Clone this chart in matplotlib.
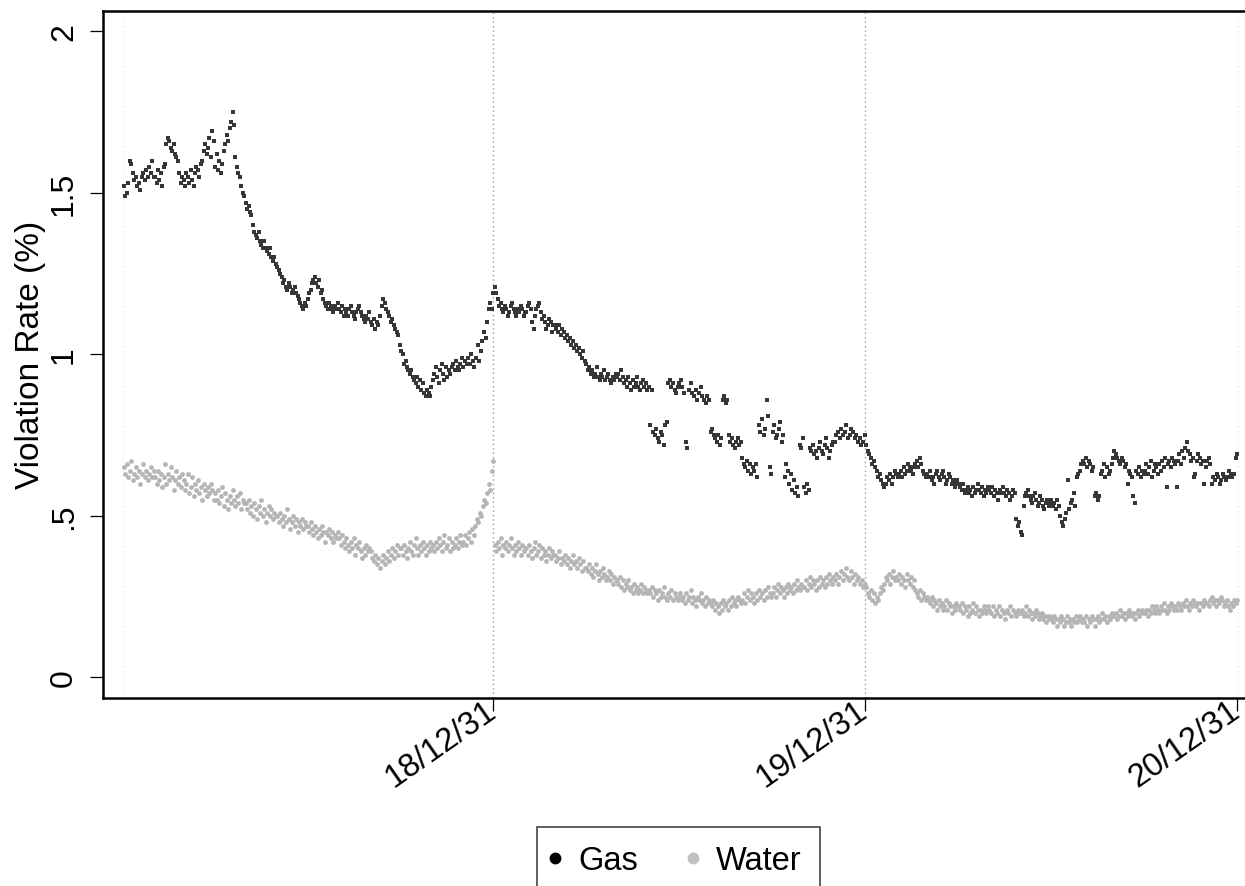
import numpy as np
import pandas as pd
import matplotlib
matplotlib.use("Agg")
import matplotlib.pyplot as plt
import matplotlib.dates as mdates
import matplotlib.transforms as mtransforms
from matplotlib.lines import Line2D

plt.rcParams['font.family'] = ['Liberation Sans', 'DejaVu Sans']

# ---------------- data (violation rate, %), one list per month ----------------
gas_2018 = [
    [1.52, 1.49, 1.50, 1.53, 1.60, 1.59, 1.56, 1.54, 1.55, 1.52, 1.53, 1.51, 1.55, 1.56, 1.54, 1.57, 1.55, 1.58, 1.56, 1.60, 1.55],
    [1.55, 1.53, 1.57, 1.54, 1.56, 1.52, 1.58, 1.59, 1.65, 1.67, 1.66, 1.64, 1.63, 1.65, 1.62, 1.61, 1.60, 1.56, 1.53, 1.55],
    [1.54, 1.52, 1.56, 1.55, 1.53, 1.57, 1.54, 1.52, 1.56, 1.58, 1.57, 1.55, 1.59, 1.60, 1.63, 1.65, 1.62, 1.64, 1.67, 1.61, 1.69, 1.66],
    [1.58, 1.62, 1.57, 1.60, 1.56, 1.59, 1.63, 1.65, 1.68, 1.66, 1.70, 1.72, 1.75, 1.71, 1.61, 1.58, 1.56, 1.55, 1.52, 1.50, 1.49],
    [1.47, 1.45, 1.46, 1.44, 1.43, 1.40, 1.38, 1.37, 1.36, 1.38, 1.35, 1.34, 1.33, 1.35, 1.33, 1.32, 1.31, 1.33, 1.30, 1.29, 1.30, 1.28],
    [1.27, 1.26, 1.25, 1.24, 1.22, 1.23, 1.21, 1.20, 1.22, 1.21, 1.19, 1.20, 1.21, 1.19, 1.18, 1.17, 1.16, 1.15, 1.14, 1.16, 1.15],
    [1.17, 1.19, 1.20, 1.22, 1.23, 1.24, 1.22, 1.21, 1.23, 1.19, 1.20, 1.17, 1.16, 1.15, 1.14, 1.16, 1.15, 1.14, 1.13, 1.15, 1.14, 1.16],
    [1.14, 1.13, 1.15, 1.12, 1.14, 1.13, 1.12, 1.14, 1.15, 1.13, 1.12, 1.11, 1.13, 1.14, 1.15, 1.13, 1.12, 1.11, 1.10, 1.12, 1.11, 1.13],
    [1.10, 1.09, 1.11, 1.08, 1.10, 1.09, 1.12, 1.15, 1.17, 1.16, 1.14, 1.13, 1.12, 1.10, 1.11, 1.09, 1.08, 1.07, 1.06, 1.03],
    [1.01, 1.00, 0.97, 0.98, 0.96, 0.95, 0.94, 0.95, 0.93, 0.92, 0.91, 0.93, 0.90, 0.92, 0.89, 0.91, 0.88, 0.87, 0.89, 0.88, 0.87, 0.90],
    [0.92, 0.94, 0.96, 0.93, 0.91, 0.95, 0.97, 0.94, 0.92, 0.96, 0.93, 0.95, 0.94, 0.96, 0.97, 0.95, 0.98, 0.96, 0.95, 0.97, 0.99],
    [0.96, 0.98, 0.97, 0.99, 0.97, 1.00, 0.98, 0.96, 0.99, 1.03, 0.98, 1.01, 1.04, 1.07, 1.05, 1.10, 1.14, 1.16, 1.14, 1.19],
]
gas_2019 = [
    [1.21, 1.19, 1.17, 1.15, 1.16, 1.14, 1.13, 1.15, 1.14, 1.12, 1.13, 1.15, 1.16, 1.14, 1.13, 1.12, 1.14, 1.13, 1.15, 1.14, 1.12, 1.13],
    [1.13, 1.15, 1.16, 1.14, 1.10, 1.08, 1.12, 1.14, 1.15, 1.16, 1.13, 1.11, 1.12, 1.10, 1.08, 1.09, 1.11, 1.10, 1.07, 1.09],
    [1.09, 1.08, 1.07, 1.09, 1.06, 1.08, 1.07, 1.05, 1.06, 1.04, 1.05, 1.03, 1.04, 1.02, 1.03, 1.01, 1.02, 1.00, 0.99, 1.01, 0.98],
    [0.97, 0.95, 0.96, 0.94, 0.95, 0.93, 0.94, 0.96, 0.93, 0.92, 0.94, 0.93, 0.95, 0.92, 0.93, 0.94, 0.92, 0.91, 0.93, 0.92, 0.94],
    [0.93, 0.94, 0.92, 0.95, 0.93, 0.91, 0.92, 0.90, 0.93, 0.91, 0.89, 0.92, 0.90, 0.91, 0.93, 0.90, 0.89, 0.91, 0.92, 0.90, 0.91, 0.89],
    [0.90, 0.78, 0.89, 0.76, 0.75, 0.77, 0.74, 0.73, 0.76, 0.75, 0.72, 0.78, 0.79, 0.91, 0.92, 0.90, 0.91, 0.89, 0.88, 0.90],
    [0.91, 0.92, 0.90, 0.88, 0.73, 0.71, 0.89, 0.91, 0.88, 0.87, 0.89, 0.86, 0.88, 0.90, 0.87, 0.86, 0.85, 0.87, 0.86],
    [0.76, 0.77, 0.75, 0.74, 0.73, 0.75, 0.72, 0.74, 0.86, 0.87, 0.85, 0.86, 0.75, 0.73, 0.74, 0.72, 0.71, 0.73, 0.74, 0.72, 0.73],
    [0.68, 0.66, 0.65, 0.67, 0.64, 0.66, 0.63, 0.65, 0.64, 0.66, 0.62, 0.78, 0.76, 0.80, 0.75, 0.77, 0.86, 0.81, 0.65, 0.63],
    [0.76, 0.78, 0.74, 0.75, 0.77, 0.79, 0.73, 0.75, 0.62, 0.66, 0.64, 0.60, 0.63, 0.58, 0.61, 0.57, 0.59, 0.56, 0.72, 0.71, 0.74],
    [0.59, 0.57, 0.60, 0.58, 0.71, 0.70, 0.72, 0.69, 0.70, 0.68, 0.71, 0.73, 0.70, 0.69, 0.72, 0.74, 0.71, 0.68, 0.70, 0.72, 0.73],
    [0.73, 0.75, 0.76, 0.74, 0.77, 0.75, 0.76, 0.78, 0.74, 0.75, 0.77, 0.76, 0.74, 0.75, 0.73, 0.74, 0.72, 0.73, 0.75],
]
gas_2020 = [
    [0.72, 0.70, 0.69, 0.68, 0.66, 0.67, 0.65, 0.64, 0.62, 0.63, 0.61, 0.60, 0.59, 0.60, 0.62, 0.61, 0.63, 0.60, 0.62, 0.64, 0.63],
    [0.62, 0.63, 0.64, 0.62, 0.65, 0.63, 0.64, 0.66, 0.65, 0.64, 0.63, 0.65, 0.66, 0.67, 0.65, 0.68, 0.66, 0.64, 0.63, 0.62],
    [0.63, 0.62, 0.64, 0.61, 0.62, 0.60, 0.63, 0.64, 0.62, 0.61, 0.63, 0.64, 0.62, 0.60, 0.61, 0.63, 0.62, 0.60, 0.61, 0.59, 0.60, 0.61],
    [0.60, 0.59, 0.58, 0.60, 0.57, 0.58, 0.59, 0.57, 0.58, 0.56, 0.59, 0.57, 0.58, 0.60, 0.58, 0.57, 0.59, 0.56, 0.58, 0.57, 0.59],
    [0.58, 0.57, 0.59, 0.56, 0.58, 0.57, 0.55, 0.58, 0.57, 0.59, 0.57, 0.56, 0.58, 0.57, 0.55, 0.56, 0.58, 0.57, 0.49, 0.47, 0.48],
    [0.45, 0.44, 0.53, 0.56, 0.57, 0.58, 0.56, 0.55, 0.54, 0.56, 0.57, 0.55, 0.53, 0.54, 0.56, 0.55, 0.53, 0.52, 0.54, 0.55, 0.53, 0.54],
    [0.55, 0.53, 0.54, 0.52, 0.55, 0.53, 0.50, 0.48, 0.47, 0.49, 0.51, 0.61, 0.52, 0.54, 0.55, 0.57, 0.53, 0.62, 0.63, 0.64, 0.66],
    [0.67, 0.66, 0.68, 0.65, 0.67, 0.66, 0.64, 0.65, 0.56, 0.57, 0.55, 0.56, 0.63, 0.64, 0.66, 0.62, 0.65, 0.63, 0.64, 0.66, 0.68],
    [0.70, 0.69, 0.68, 0.67, 0.66, 0.68, 0.67, 0.65, 0.66, 0.60, 0.64, 0.63, 0.62, 0.56, 0.54, 0.64, 0.63, 0.65, 0.62, 0.64, 0.63],
    [0.64, 0.66, 0.63, 0.65, 0.67, 0.62, 0.64, 0.66, 0.65, 0.63, 0.66, 0.64, 0.67, 0.65, 0.68, 0.59, 0.66, 0.67, 0.65, 0.68, 0.67, 0.66],
    [0.59, 0.67, 0.69, 0.66, 0.70, 0.68, 0.71, 0.73, 0.70, 0.69, 0.67, 0.68, 0.62, 0.63, 0.67, 0.69, 0.68, 0.66, 0.67, 0.60, 0.65],
    [0.67, 0.68, 0.66, 0.60, 0.62, 0.61, 0.63, 0.62, 0.60, 0.61, 0.63, 0.62, 0.61, 0.62, 0.64, 0.63, 0.62, 0.63, 0.68, 0.69],
]
water_2018 = [
    [0.65, 0.63, 0.66, 0.62, 0.64, 0.67, 0.61, 0.63, 0.65, 0.62, 0.64, 0.60, 0.63, 0.66, 0.62, 0.64, 0.61, 0.63, 0.65, 0.62, 0.64],
    [0.62, 0.60, 0.64, 0.61, 0.63, 0.59, 0.62, 0.66, 0.60, 0.63, 0.61, 0.65, 0.62, 0.58, 0.61, 0.64, 0.60, 0.62, 0.59, 0.63],
    [0.61, 0.58, 0.60, 0.63, 0.57, 0.59, 0.62, 0.56, 0.60, 0.58, 0.61, 0.57, 0.59, 0.55, 0.60, 0.58, 0.56, 0.59, 0.57, 0.60, 0.58, 0.55],
    [0.57, 0.55, 0.58, 0.54, 0.56, 0.59, 0.53, 0.57, 0.55, 0.52, 0.56, 0.54, 0.58, 0.55, 0.53, 0.56, 0.54, 0.57, 0.52, 0.55, 0.54],
    [0.54, 0.52, 0.55, 0.51, 0.53, 0.50, 0.54, 0.52, 0.49, 0.53, 0.51, 0.55, 0.50, 0.52, 0.48, 0.51, 0.53, 0.50, 0.52, 0.49, 0.51, 0.50],
    [0.50, 0.48, 0.51, 0.49, 0.47, 0.50, 0.48, 0.52, 0.49, 0.46, 0.48, 0.50, 0.47, 0.49, 0.45, 0.48, 0.47, 0.49, 0.46, 0.48, 0.47],
    [0.47, 0.45, 0.48, 0.46, 0.44, 0.47, 0.45, 0.43, 0.46, 0.44, 0.47, 0.45, 0.42, 0.45, 0.44, 0.46, 0.43, 0.45, 0.42, 0.44, 0.43, 0.45],
    [0.43, 0.41, 0.44, 0.42, 0.40, 0.43, 0.41, 0.39, 0.42, 0.40, 0.43, 0.38, 0.41, 0.40, 0.42, 0.39, 0.37, 0.40, 0.38, 0.41, 0.39, 0.40],
    [0.39, 0.37, 0.36, 0.38, 0.35, 0.37, 0.34, 0.36, 0.38, 0.35, 0.37, 0.39, 0.36, 0.38, 0.40, 0.37, 0.39, 0.41, 0.38, 0.40],
    [0.40, 0.38, 0.41, 0.39, 0.37, 0.40, 0.42, 0.39, 0.38, 0.41, 0.43, 0.40, 0.38, 0.41, 0.39, 0.42, 0.40, 0.38, 0.41, 0.39, 0.42, 0.40],
    [0.41, 0.39, 0.42, 0.40, 0.43, 0.41, 0.39, 0.42, 0.44, 0.40, 0.41, 0.43, 0.39, 0.42, 0.40, 0.41, 0.43, 0.40, 0.42, 0.44, 0.41],
    [0.42, 0.44, 0.41, 0.43, 0.45, 0.42, 0.46, 0.44, 0.47, 0.49, 0.48, 0.51, 0.50, 0.53, 0.55, 0.54, 0.57, 0.60, 0.58, 0.64, 0.67],
]
water_2019 = [
    [0.41, 0.39, 0.42, 0.40, 0.43, 0.38, 0.41, 0.40, 0.42, 0.39, 0.41, 0.43, 0.40, 0.38, 0.41, 0.39, 0.42, 0.40, 0.38, 0.41, 0.39, 0.40],
    [0.40, 0.38, 0.41, 0.39, 0.37, 0.40, 0.42, 0.38, 0.39, 0.41, 0.37, 0.40, 0.38, 0.39, 0.36, 0.38, 0.40, 0.37, 0.39, 0.38],
    [0.38, 0.36, 0.37, 0.39, 0.35, 0.37, 0.36, 0.38, 0.35, 0.37, 0.34, 0.36, 0.38, 0.35, 0.36, 0.34, 0.37, 0.35, 0.33, 0.36, 0.34],
    [0.34, 0.33, 0.35, 0.32, 0.34, 0.31, 0.33, 0.35, 0.32, 0.30, 0.33, 0.31, 0.34, 0.32, 0.30, 0.31, 0.33, 0.30, 0.32, 0.29, 0.31, 0.30],
    [0.30, 0.29, 0.31, 0.28, 0.30, 0.27, 0.29, 0.28, 0.30, 0.27, 0.28, 0.26, 0.29, 0.27, 0.28, 0.26, 0.27, 0.29, 0.26, 0.28, 0.27, 0.26],
    [0.27, 0.26, 0.28, 0.25, 0.27, 0.26, 0.24, 0.27, 0.25, 0.26, 0.28, 0.25, 0.24, 0.26, 0.25, 0.27, 0.24, 0.26, 0.25, 0.24],
    [0.25, 0.26, 0.24, 0.25, 0.23, 0.26, 0.24, 0.25, 0.27, 0.23, 0.25, 0.24, 0.22, 0.25, 0.24, 0.26, 0.23, 0.24, 0.22, 0.25, 0.23, 0.24],
    [0.23, 0.22, 0.24, 0.21, 0.23, 0.22, 0.20, 0.23, 0.21, 0.24, 0.22, 0.23, 0.21, 0.24, 0.22, 0.25, 0.23, 0.24, 0.22, 0.25, 0.24, 0.23],
    [0.24, 0.26, 0.23, 0.25, 0.27, 0.24, 0.26, 0.25, 0.23, 0.26, 0.24, 0.27, 0.25, 0.26, 0.24, 0.27, 0.25, 0.28, 0.26, 0.25],
    [0.26, 0.28, 0.25, 0.27, 0.29, 0.26, 0.28, 0.27, 0.25, 0.28, 0.26, 0.29, 0.27, 0.28, 0.26, 0.29, 0.27, 0.30, 0.28, 0.27, 0.29, 0.28],
    [0.28, 0.30, 0.27, 0.29, 0.31, 0.28, 0.30, 0.29, 0.27, 0.30, 0.28, 0.31, 0.29, 0.30, 0.28, 0.31, 0.29, 0.32, 0.30, 0.29, 0.31],
    [0.30, 0.32, 0.29, 0.31, 0.33, 0.30, 0.32, 0.34, 0.31, 0.30, 0.33, 0.31, 0.29, 0.32, 0.30, 0.31, 0.29, 0.30, 0.28, 0.29],
]
water_2020 = [
    [0.28, 0.26, 0.25, 0.27, 0.24, 0.26, 0.23, 0.25, 0.24, 0.26, 0.28, 0.27, 0.29, 0.31, 0.30, 0.32, 0.29, 0.31, 0.33, 0.30, 0.31],
    [0.30, 0.32, 0.29, 0.31, 0.30, 0.28, 0.32, 0.30, 0.29, 0.31, 0.28, 0.30, 0.27, 0.26, 0.25, 0.27, 0.24, 0.26, 0.25, 0.24],
    [0.25, 0.24, 0.23, 0.25, 0.22, 0.24, 0.23, 0.21, 0.24, 0.22, 0.23, 0.21, 0.22, 0.24, 0.21, 0.23, 0.22, 0.20, 0.22, 0.21, 0.23, 0.22],
    [0.22, 0.21, 0.23, 0.20, 0.22, 0.21, 0.19, 0.22, 0.20, 0.21, 0.23, 0.20, 0.22, 0.21, 0.19, 0.21, 0.20, 0.22, 0.21, 0.20, 0.22],
    [0.21, 0.20, 0.22, 0.19, 0.21, 0.20, 0.22, 0.19, 0.21, 0.20, 0.18, 0.21, 0.20, 0.22, 0.19, 0.21, 0.20, 0.19, 0.21, 0.20],
    [0.20, 0.21, 0.19, 0.20, 0.22, 0.19, 0.21, 0.20, 0.18, 0.20, 0.19, 0.21, 0.20, 0.18, 0.19, 0.20, 0.18, 0.19, 0.17, 0.19, 0.18, 0.19],
    [0.18, 0.17, 0.19, 0.18, 0.16, 0.18, 0.17, 0.19, 0.18, 0.16, 0.17, 0.19, 0.17, 0.18, 0.16, 0.18, 0.17, 0.19, 0.17, 0.18, 0.19, 0.17],
    [0.18, 0.17, 0.19, 0.16, 0.18, 0.17, 0.19, 0.18, 0.16, 0.18, 0.19, 0.17, 0.18, 0.20, 0.18, 0.19, 0.17, 0.19, 0.18, 0.20, 0.19],
    [0.19, 0.20, 0.18, 0.19, 0.21, 0.19, 0.20, 0.18, 0.20, 0.19, 0.21, 0.20, 0.19, 0.20, 0.18, 0.20, 0.21, 0.19, 0.20, 0.21, 0.20],
    [0.20, 0.21, 0.19, 0.21, 0.20, 0.22, 0.21, 0.20, 0.22, 0.21, 0.20, 0.22, 0.21, 0.23, 0.21, 0.20, 0.22, 0.21, 0.23, 0.22, 0.21, 0.22],
    [0.21, 0.23, 0.22, 0.21, 0.23, 0.22, 0.24, 0.22, 0.21, 0.23, 0.22, 0.24, 0.23, 0.22, 0.23, 0.21, 0.23, 0.22, 0.24, 0.23],
    [0.23, 0.22, 0.24, 0.25, 0.23, 0.24, 0.22, 0.24, 0.23, 0.25, 0.24, 0.22, 0.23, 0.24, 0.22, 0.21, 0.23, 0.22, 0.24, 0.23, 0.24],
]

series_labels = ["Gas", "Water"]
tick_dates = ["2018-12-31", "2019-12-31", "2020-12-31"]
y_ticks = [0, 0.5, 1, 1.5, 2]
y_ticklabels = ["0", ".5", "1", "1.5", "2"]


def month_points(year_lists, year):
    xs, ys = [], []
    for m, vals in enumerate(year_lists):
        start = pd.Timestamp(year=year, month=m + 1, day=1)
        nd = start.days_in_month
        n = len(vals)
        for i, v in enumerate(vals):
            xs.append(mdates.date2num(start + pd.Timedelta(days=(i + 0.5) * nd / n)))
            ys.append(v)
    return xs, ys


def full_series(per_year):
    X, Y = [], []
    for year, lists in per_year:
        x, y = month_points(lists, year)
        X += x
        Y += y
    return np.array(X), np.array(Y)


gx, gy = full_series([(2018, gas_2018), (2019, gas_2019), (2020, gas_2020)])
wx, wy = full_series([(2018, water_2018), (2019, water_2019), (2020, water_2020)])

W, H = 1245, 887
fig = plt.figure(figsize=(W / 100, H / 100), dpi=100)
ax = fig.add_axes([103.3 / W, (H - 699) / H, (W - 103.3) / W, (699 - 11.7) / H])

gas_col = "#363636"
water_col = "#b5b5b5"

# reference lines
for d in ["2018-12-31", "2019-12-31"]:
    ax.axvline(mdates.date2num(pd.Timestamp(d)), color="#9a9a9a", lw=1.0,
               ls=(0, (1, 2.2)), zorder=1)
for d in ["2018-01-01", "2021-01-01"]:
    ax.axvline(mdates.date2num(pd.Timestamp(d)), color="#ececec", lw=1.0,
               ls=(0, (1, 2.2)), zorder=1)

ax.scatter(wx, wy, s=12, marker="o", color=water_col, linewidths=0, zorder=2)
ax.scatter(gx, gy, s=10, marker="s", color=gas_col, linewidths=0, zorder=3)

x0 = mdates.date2num(pd.Timestamp("2018-12-31"))
ax.set_xlim(x0 - 364 - 19.2, x0 + 739)
ax.set_ylim(-0.064, 2.064)

ax.set_xticks([mdates.date2num(pd.Timestamp(d)) for d in tick_dates])
ax.set_xticklabels([pd.Timestamp(d).strftime("%y/%m/%d") for d in tick_dates],
                   rotation=35, ha="right", va="top", rotation_mode="anchor")
ax.set_yticks(y_ticks)
ax.set_yticklabels(y_ticklabels, rotation=90, va="center")

ax.tick_params(axis="both", length=9.5, width=0.9, color="black")
ax.tick_params(axis="y", pad=8, labelsize=23)
ax.tick_params(axis="x", pad=-2, labelsize=23.5)

# nudge the angled date labels (left 9 px, up 14 px)
shift = mtransforms.ScaledTranslation(-9 / 100, 14 / 100, fig.dpi_scale_trans)
for lab in ax.get_xticklabels():
    lab.set_transform(lab.get_transform() + shift)

for s in ["left", "bottom", "top"]:
    ax.spines[s].set_linewidth(1.8)
    ax.spines[s].set_color("black")
ax.spines["right"].set_visible(False)

ax.set_ylabel("Violation Rate (%)", fontsize=24, labelpad=2)

handles = [
    Line2D([], [], ls="none", marker="o", color="black", markersize=7.5),
    Line2D([], [], ls="none", marker="o", color="#c0c0c0", markersize=7.5),
]
leg = fig.legend(handles, series_labels, loc="upper center",
                 bbox_to_anchor=(678.5 / W, (H - 828) / H), ncol=2,
                 frameon=True, fancybox=False, fontsize=23.5,
                 handlelength=0.0, handletextpad=0.7, columnspacing=1.7,
                 borderpad=0.55, borderaxespad=0)
leg.get_frame().set_edgecolor("black")
leg.get_frame().set_linewidth(1.1)

fig.savefig("out.png", dpi=100, facecolor="white")
